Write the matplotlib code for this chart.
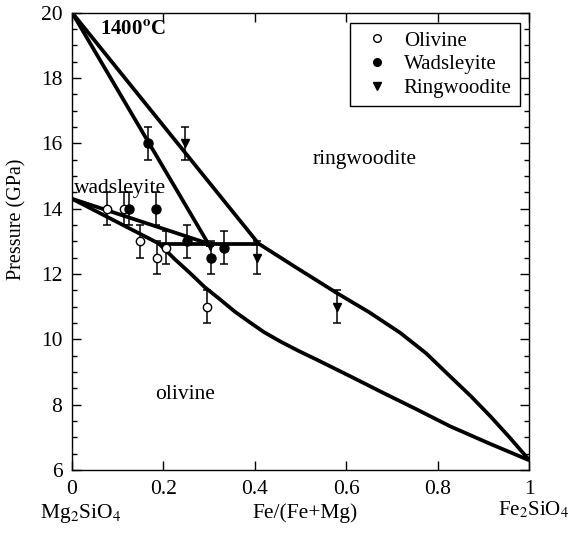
import matplotlib
matplotlib.use("Agg")
import matplotlib.pyplot as plt
from matplotlib.ticker import MultipleLocator, FixedLocator, FixedFormatter
from matplotlib.lines import Line2D

plt.rcParams['font.family'] = ['Liberation Serif', 'DejaVu Serif']
plt.rcParams['mathtext.fontset'] = 'stix'

# ---- data: experimental points ----
ol_x = [0.076, 0.114, 0.149, 0.185, 0.206, 0.295]
ol_p = [14.0, 14.0, 13.0, 12.5, 12.8, 11.0]
ol_err = [0.5, 0.5, 0.5, 0.5, 0.5, 0.5]

wd_x = [0.125, 0.167, 0.184, 0.251, 0.304, 0.333]
wd_p = [14.0, 16.0, 14.0, 13.0, 12.5, 12.8]
wd_err = [0.5, 0.5, 0.5, 0.5, 0.5, 0.5]

rw_x = [0.248, 0.303, 0.405, 0.579]
rw_p = [16.0, 12.85, 12.5, 11.0]
rw_err = [0.5, 0.0, 0.5, 0.5]

# ---- data: phase boundaries ----
wdrw_a_x = [0.0, 0.298]
wdrw_a_p = [20.0, 12.93]
wdrw_b_x = [0.0, 0.408]
wdrw_b_p = [20.0, 12.93]
olwd_up_x = [0.0, 0.298]
olwd_up_p = [14.3, 12.93]
olwd_lo_x = [0.0, 0.19]
olwd_lo_p = [14.3, 12.93]
tri_x = [0.19, 0.408]
tri_p = [12.93, 12.93]
olrw_lo_x = [0.19, 0.225, 0.258, 0.29, 0.324, 0.356, 0.389, 0.42, 0.455, 0.495, 0.535, 0.61, 0.681, 0.755, 0.827, 0.915, 1.0]
olrw_lo_p = [12.93, 12.45, 12.03, 11.6, 11.22, 10.85, 10.52, 10.22, 9.94, 9.65, 9.38, 8.86, 8.36, 7.85, 7.34, 6.8, 6.3]
olrw_up_x = [0.408, 0.49, 0.579, 0.65, 0.718, 0.775, 0.827, 0.872, 0.915, 0.958, 1.0]
olrw_up_p = [12.93, 12.2, 11.42, 10.83, 10.20, 9.57, 8.87, 8.27, 7.65, 6.99, 6.31]

x_ticks = [0, 0.2, 0.4, 0.6, 0.8, 1.0]
x_ticklabels = ['0', '0.2', '0.4', '0.6', '0.8', '1']
y_ticks = [6, 8, 10, 12, 14, 16, 18, 20]

W, H = 572, 534
fig = plt.figure(figsize=(W / 100, H / 100), dpi=100)
ax = fig.add_axes([72 / W, 1 - 470 / H, 457 / W, 457.5 / H])
ax.set_xlim(0, 1)
ax.set_ylim(6, 20)

blw = 2.7
for bx, bp in [(wdrw_a_x, wdrw_a_p), (wdrw_b_x, wdrw_b_p), (olwd_up_x, olwd_up_p),
               (olwd_lo_x, olwd_lo_p), (tri_x, tri_p), (olrw_lo_x, olrw_lo_p),
               (olrw_up_x, olrw_up_p)]:
    ax.plot(bx, bp, color='black', lw=blw, zorder=3, solid_capstyle='round',
            solid_joinstyle='round')

ekw = dict(fmt='none', ecolor='black', elinewidth=1.1, capsize=3.0, capthick=1.1, zorder=2)
ax.errorbar(ol_x, ol_p, yerr=ol_err, **ekw)
ax.errorbar(wd_x, wd_p, yerr=wd_err, **ekw)
ax.errorbar(rw_x, rw_p, yerr=rw_err, **ekw)

ax.plot(ol_x, ol_p, 'o', ms=6, mfc='white', mec='black', mew=1.0, ls='none', zorder=4)
ax.plot(wd_x, wd_p, 'o', ms=6.5, mfc='black', mec='black', ls='none', zorder=4)
ax.plot(rw_x, rw_p, 'v', ms=6, mfc='black', mec='black', ls='none', zorder=4)

handles = [
    Line2D([], [], marker='o', ls='none', ms=5.5, mfc='white', mec='black', mew=1.0),
    Line2D([], [], marker='o', ls='none', ms=5.5, mfc='black', mec='black'),
    Line2D([], [], marker='v', ls='none', ms=5.5, mfc='black', mec='black'),
]
leg = ax.legend(handles, ['Olivine', 'Wadsleyite', 'Ringwoodite'],
                loc='upper right', bbox_to_anchor=(520 / W, 1 - 22.7 / H),
                bbox_transform=fig.transFigure, borderaxespad=0,
                fontsize=15, handlelength=1.8, handletextpad=0.4,
                borderpad=0.4, labelspacing=0.2, fancybox=False,
                framealpha=1, edgecolor='black')
leg.get_frame().set_linewidth(1.0)

# ticks
ax.xaxis.set_major_locator(FixedLocator(x_ticks))
ax.xaxis.set_major_formatter(FixedFormatter(x_ticklabels))
ax.yaxis.set_major_locator(FixedLocator(y_ticks))
ax.yaxis.set_minor_locator(MultipleLocator(0.5))
ax.tick_params(which='both', direction='in', top=True, right=True, width=1.0)
ax.tick_params(which='major', length=6.5, labelsize=15.5)
ax.tick_params(which='minor', length=3.6)
ax.tick_params(axis='x', pad=7)
ax.tick_params(axis='y', pad=7)
for s in ax.spines.values():
    s.set_linewidth(1.0)

ax.set_ylabel('Pressure (GPa)', fontsize=14.5)
ax.yaxis.set_label_coords(-0.100, 0.549)

# composition labels
fig.text(81 / W, 1 - 518 / H, r'Mg$_2$SiO$_4$', fontsize=15.5, ha='center', va='baseline')
fig.text(305 / W, 1 - 518 / H, 'Fe/(Fe+Mg)', fontsize=15.5, ha='center', va='baseline')
fig.text(569 / W, 1 - 515 / H, r'Fe$_2$SiO$_4$', fontsize=15, ha='right', va='baseline')

# annotations
ax.text(0.061, 19.46, r'1400$^{\mathbf{o}}$C', fontsize=15, fontweight='bold', ha='left', va='center')
ax.text(0.005, 14.62, 'wadsleyite', fontsize=15.5, ha='left', va='center')
ax.text(0.527, 15.49, 'ringwoodite', fontsize=15.5, ha='left', va='center')
ax.text(0.182, 8.3, 'olivine', fontsize=15.5, ha='left', va='center')

fig.savefig('out.png', dpi=100)
